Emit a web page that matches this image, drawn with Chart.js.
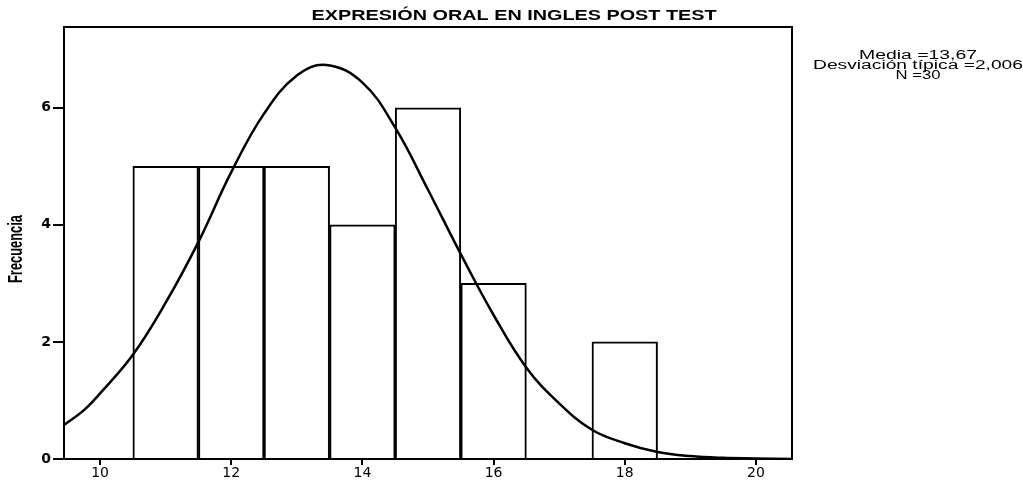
<!DOCTYPE html>
<html>
<head>
<meta charset="utf-8">
<script src="https://cdn.jsdelivr.net/npm/chart.js@4/dist/chart.umd.min.js"></script>
<style>
html,body{margin:0;padding:0;background:#fff;}
#wrap{width:1023px;height:483px;}
</style>
</head>
<body>
<div id="wrap"><canvas id="c" width="1023" height="483"></canvas></div>
<script>
// Histogram bins (centers) and frequencies
const binCenters = [11, 12, 13, 14, 15, 16, 17, 18];
const frequencies = [5, 5, 5, 4, 6, 3, 0, 2];
// Normal curve
const curveX = [9.45, 9.75, 10, 10.5, 11, 11.5, 12, 12.5, 13, 13.45, 14, 14.5, 15, 15.5, 16, 16.5, 17, 17.5, 18, 18.5, 19, 19.5, 20, 20.55];
const curveY = [0.58, 0.83, 1.12, 1.78, 2.67, 3.71, 4.9, 5.9, 6.55, 6.73, 6.43, 5.66, 4.6, 3.5, 2.46, 1.56, 0.95, 0.5, 0.27, 0.12, 0.05, 0.02, 0.01, 0.0];
const xTicks = [10, 12, 14, 16, 18, 20];
const yTicks = [0, 2, 4, 6];
const titleText = 'EXPRESIÓN ORAL EN INGLES POST TEST';
const statsLines = ['Media =13,67', 'Desviación típica =2,006', 'N =30'];
const yTitle = 'Frecuencia';

const barData = binCenters.map((x, i) => ({x: x, y: frequencies[i]}));
const lineData = curveX.map((x, i) => ({x: x, y: curveY[i]}));

function scaledText(ctx, text, cx, cy, targetW) {
  const w = ctx.measureText(text).width;
  const s = targetW / w;
  ctx.save();
  ctx.translate(cx, cy);
  ctx.scale(s, 1);
  ctx.fillText(text, 0, 0);
  ctx.restore();
}

const decor = {
  id: 'decor',
  afterDatasetsDraw(chart) {
    const {ctx, chartArea: a} = chart;
    ctx.save();
    ctx.strokeStyle = '#000';
    ctx.lineWidth = 2;
    ctx.strokeRect(a.left, a.top, a.right - a.left, a.bottom - a.top);
    ctx.fillStyle = '#000';
    ctx.textAlign = 'center';
    ctx.textBaseline = 'middle';
    // title
    ctx.font = 'bold 14px "Liberation Sans", Arial, sans-serif';
    scaledText(ctx, titleText, 514, 16, 405);
    // stats
    ctx.font = '12px "Liberation Sans", Arial, sans-serif';
    const ws = [118, 210, 45];
    statsLines.forEach((t, i) => scaledText(ctx, t, 918, 56 + i * 10, ws[i]));
    // y axis title (condensed, rotated)
    ctx.save();
    ctx.translate(16, 249);
    ctx.rotate(-Math.PI / 2);
    ctx.font = 'bold 20px "Liberation Sans", Arial, sans-serif';
    const w = ctx.measureText(yTitle).width;
    ctx.scale(68 / w, 1);
    ctx.fillText(yTitle, 0, 0);
    ctx.restore();
    ctx.restore();
  }
};

new Chart(document.getElementById('c'), {
  type: 'bar',
  data: {
    datasets: [
      {
        type: 'line',
        data: lineData,
        borderColor: '#000',
        borderWidth: 2.5,
        pointRadius: 0,
        tension: 0.4,
        fill: false,
        order: 0
      },
      {
        type: 'bar',
        data: barData,
        backgroundColor: '#fff',
        borderColor: '#000',
        borderWidth: 2,
        barPercentage: 1,
        categoryPercentage: 1,
        order: 1
      }
    ]
  },
  options: {
    responsive: false,
    animation: false,
    layout: {padding: {left: 0, top: 27, right: 231, bottom: 0}},
    plugins: {legend: {display: false}, tooltip: {enabled: false}, title: {display: false}},
    scales: {
      x: {
        type: 'linear',
        offset: false,
        min: 9.45,
        max: 20.55,
        afterFit(s) { s.height = 24; },
        afterBuildTicks(s) { s.ticks = xTicks.map(v => ({value: v})); },
        grid: {display: true, offset: false, drawOnChartArea: false, drawTicks: true, tickLength: 6, color: '#000', lineWidth: 2},
        border: {display: true, color: '#000', width: 2},
        ticks: {color: '#000', font: {size: 14, family: '"DejaVu Sans", sans-serif'}, padding: 0, maxRotation: 0}
      },
      y: {
        min: 0,
        max: 7.38,
        afterFit(s) { s.width = 64; },
        afterBuildTicks(s) { s.ticks = yTicks.map(v => ({value: v})); },
        grid: {display: true, drawOnChartArea: false, tickLength: 11, color: '#000', lineWidth: 2},
        border: {display: true, color: '#000', width: 2},
        ticks: {color: '#000', font: {size: 14, weight: 'bold', family: '"DejaVu Sans", sans-serif'}, padding: 2}
      }
    }
  },
  plugins: [decor]
});
</script>
</body>
</html>
